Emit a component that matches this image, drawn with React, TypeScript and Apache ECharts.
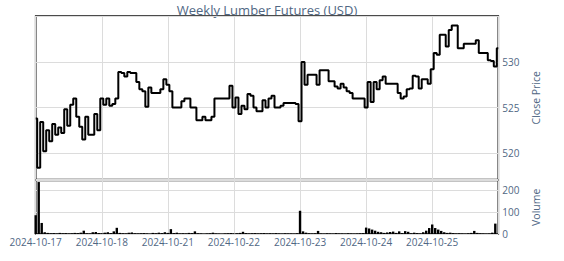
import React, { useEffect, useRef } from "react";
import * as echarts from "echarts";

const DAYS = ["2024-10-17", "2024-10-18", "2024-10-21", "2024-10-22", "2024-10-23", "2024-10-24", "2024-10-25"];
const POINTS_PER_DAY = 22;
const PRICE_TICKS = [520, 525, 530];

const CLOSE_PRICE = [
  523.8, 518.4, 523.4, 520.2, 522.5, 521.3, 523.2, 522.0, 522.8, 522.2, 524.8, 523.0, 525.3, 526.0, 524.0, 522.9, 521.5, 524.0, 522.0, 522.0, 524.3, 522.5,
  526.0, 525.3, 526.0, 525.2, 525.4, 526.0, 528.9, 528.8, 528.4, 528.9, 528.8, 528.8, 527.8, 527.0, 526.8, 525.1, 527.2, 526.6, 526.6, 526.6, 527.0, 528.1,
  527.5, 526.8, 525.0, 525.0, 525.0, 525.7, 526.0, 526.0, 525.0, 525.0, 523.6, 523.6, 524.0, 523.6, 523.6, 524.0, 526.0, 526.0, 526.0, 526.0, 526.0, 527.4,
  525.0, 526.1, 524.3, 525.2, 524.8, 526.5, 526.3, 525.0, 524.6, 524.6, 525.8, 525.0, 526.0, 526.3, 525.0, 525.0, 525.2, 525.5, 525.5, 525.5, 525.5, 525.4,
  523.5, 530.0, 527.5, 528.6, 528.6, 528.6, 527.5, 529.1, 529.1, 529.1, 527.9, 527.9, 527.3, 527.1, 527.6, 527.2, 526.8, 526.6, 526.0, 526.0, 526.0, 526.0,
  525.0, 527.8, 525.6, 527.8, 527.0, 528.0, 528.4, 527.6, 527.6, 527.6, 527.6, 526.6, 526.0, 526.2, 527.0, 527.1, 528.5, 528.4, 527.1, 528.1, 528.1, 527.6,
  529.2, 531.0, 530.8, 533.0, 533.0, 531.7, 533.5, 534.0, 534.0, 531.5, 531.5, 532.0, 532.0, 532.0, 532.0, 532.4, 531.0, 531.0, 531.0, 530.2, 530.1, 529.5, 531.5,
];

const VOLUME = [
  85, 235, 50, 8, 5, 3, 4, 2, 5, 3, 4, 2, 3, 5, 4, 6, 15, 3, 2, 8, 9, 4,
  3, 6, 8, 4, 12, 28, 5, 3, 2, 6, 7, 3, 2, 3, 4, 2, 0, 5, 3, 6, 4, 8,
  5, 22, 4, 6, 2, 3, 2, 5, 4, 12, 3, 2, 0, 2, 3, 6, 2, 1, 0, 2, 3, 4,
  2, 3, 5, 10, 4, 2, 3, 4, 2, 3, 4, 2, 3, 2, 4, 2, 1, 3, 2, 2, 1, 3,
  105, 12, 6, 3, 2, 3, 14, 2, 1, 3, 2, 1, 4, 2, 2, 1, 3, 2, 1, 2, 3, 4,
  29, 25, 20, 15, 10, 8, 5, 7, 9, 11, 5, 12, 4, 13, 10, 3, 6, 4, 2, 8, 15, 27,
  43, 27, 20, 14, 8, 5, 6, 4, 2, 3, 2, 1, 3, 5, 14, 5, 3, 2, 1, 2, 6, 47, 0,
];

const FONT = "Open Sans";
const TEXT_COLOR = "#506784";
const GRID_COLOR = "#dcdcdc";

export default function App() {
  const ref = useRef<HTMLDivElement>(null);
  useEffect(() => {
    if (!ref.current) return;
    const chart = echarts.init(ref.current, null, { renderer: "svg" });
    const xMax = DAYS.length * POINTS_PER_DAY;
    const xAxisCommon = {
      type: "value" as const,
      min: 0,
      max: xMax,
      interval: POINTS_PER_DAY,
      axisLine: { show: false },
      axisTick: { show: false },
      splitLine: { show: true, lineStyle: { color: GRID_COLOR, width: 1 } },
    };
    chart.setOption({
      animation: false,
      backgroundColor: "#fff",
      graphic: [
        {
          type: "text",
          x: 267,
          y: 10,
          style: {
            text: "Weekly Lumber Futures (USD)",
            align: "center",
            verticalAlign: "middle",
            fontFamily: FONT,
            fontSize: 13,
            fill: TEXT_COLOR,
          },
        },
      ],
      grid: [
        { left: 35.7, right: 65.7, top: 16, height: 163.5, show: true, borderColor: "#111", borderWidth: 1.6, backgroundColor: "transparent" },
        { left: 35.7, right: 65.7, top: 180.5, height: 53.5, show: true, borderColor: "#111", borderWidth: 1.6, backgroundColor: "transparent" },
      ],
      xAxis: [
        { ...xAxisCommon, gridIndex: 0, axisLabel: { show: false } },
        {
          ...xAxisCommon,
          gridIndex: 1,
          axisLabel: {
            show: true,
            margin: 3,
            showMaxLabel: false,
            fontFamily: FONT,
            fontSize: 10,
            color: TEXT_COLOR,
            formatter: (v: number) => DAYS[Math.round(v / POINTS_PER_DAY)] ?? "",
          },
        },
      ],
      yAxis: [
        {
          type: "value",
          gridIndex: 0,
          position: "right",
          min: 517.1,
          max: 535.05,
          splitNumber: 4,
          name: "Close Price",
          nameLocation: "middle",
          nameGap: 30,
          nameRotate: 90,
          nameTextStyle: { fontFamily: FONT, fontSize: 10.5, color: TEXT_COLOR },
          axisLine: { show: false },
          axisTick: { show: false },
          axisLabel: {
            showMinLabel: false,
            showMaxLabel: false,
            margin: 4,
            fontFamily: FONT,
            fontSize: 10,
            color: TEXT_COLOR,
            formatter: (v: number) => (PRICE_TICKS.includes(Math.round(v * 100) / 100) ? String(v) : ""),
          },
          splitLine: { show: true, lineStyle: { color: GRID_COLOR, width: 1 } },
        },
        {
          type: "value",
          gridIndex: 1,
          position: "right",
          min: 0,
          max: 242,
          interval: 100,
          name: "Volume",
          nameLocation: "middle",
          nameGap: 30,
          nameRotate: 90,
          nameTextStyle: { fontFamily: FONT, fontSize: 10.5, color: TEXT_COLOR },
          axisLine: { show: false },
          axisTick: { show: false },
          axisLabel: { showMaxLabel: false, margin: 4, fontFamily: FONT, fontSize: 10, color: TEXT_COLOR },
          splitLine: { show: true, lineStyle: { color: GRID_COLOR, width: 1 } },
        },
      ],
      series: [
        {
          type: "line",
          xAxisIndex: 0,
          yAxisIndex: 0,
          data: CLOSE_PRICE.map((v, i) => [i, v]),
          step: "middle",
          showSymbol: false,
          symbol: "none",
          lineStyle: { color: "#000", width: 2 },
          z: 3,
        },
        {
          type: "bar",
          xAxisIndex: 1,
          yAxisIndex: 1,
          data: VOLUME.map((v, i) => [i, v]),
          barWidth: 2.4,
          itemStyle: { color: "#000" },
          z: 3,
        },
      ],
    });
    return () => chart.dispose();
  }, []);
  return <div ref={ref} style={{ position: "fixed", left: 0, top: 0, width: 564, height: 261 }} />;
}
